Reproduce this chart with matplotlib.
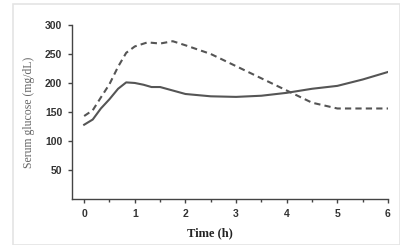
import matplotlib
matplotlib.use('Agg')
import matplotlib.pyplot as plt
from matplotlib.ticker import MultipleLocator
from matplotlib.patches import Rectangle

# time points (h) and serum glucose (mg/dL)
t_solid = [0, 0.17, 0.33, 0.5, 0.67, 0.83, 1.0, 1.17, 1.33, 1.5, 1.75, 2.0, 2.5, 3.0, 3.5, 4.0, 4.5, 5.0, 5.5, 6.0]
g_solid = [128, 137, 156, 172, 190, 201, 200, 197, 193, 193, 187, 181, 177, 176, 178, 183, 190, 195, 206, 219]

t_dash = [0, 0.17, 0.33, 0.5, 0.67, 0.83, 1.0, 1.25, 1.5, 1.75, 2.0, 2.5, 3.0, 3.5, 4.0, 4.5, 5.0, 5.5, 6.0]
g_dash = [143, 153, 175, 198, 228, 252, 263, 270, 268, 272, 265, 250, 229, 208, 187, 166, 156, 156, 156]

x_ticks = [0, 1, 2, 3, 4, 5, 6]
y_ticks = [50, 100, 150, 200, 250, 300]

fig = plt.figure(figsize=(4, 2.45), dpi=100)
fig.patches.append(Rectangle((0.033, 0.0), 0.967, 0.985, transform=fig.transFigure,
                             fill=False, edgecolor='#e4e4e4', linewidth=1.2))
ax = fig.add_axes([0.18, 0.188, 0.79, 0.71])

ax.plot(t_solid, g_solid, color='#555555', lw=1.5)
ax.plot(t_dash, g_dash, color='#555555', lw=1.5, linestyle=(0, (3, 2)))

ax.set_xlim(-0.24, 6.0)
ax.set_ylim(0, 300)
ax.spines['top'].set_visible(False)
ax.spines['right'].set_visible(False)
for s in ['left', 'bottom']:
    ax.spines[s].set_color('#444444')
    ax.spines[s].set_linewidth(1.0)

ax.set_xticks(x_ticks)
ax.xaxis.set_minor_locator(MultipleLocator(0.5))
ax.set_yticks(y_ticks)
ax.tick_params(axis='both', which='major', length=3, width=1, color='#444444', pad=4)
ax.tick_params(axis='x', which='minor', length=2, width=1, color='#444444')
for lab in ax.get_xticklabels() + ax.get_yticklabels():
    lab.set_fontfamily('Liberation Sans')
    lab.set_fontweight('bold')
    lab.set_fontsize(7.5)
    lab.set_color('#333333')

ax.set_ylabel('Serum glucose (mg/dL)', family='Liberation Serif', fontsize=8.5, color='#666666', labelpad=7)
fig.text(0.525, 0.035, 'Time (h)', family='Liberation Serif', fontweight='bold',
         fontsize=9, color='#222222', ha='center')

fig.savefig('out.png', dpi=100)
